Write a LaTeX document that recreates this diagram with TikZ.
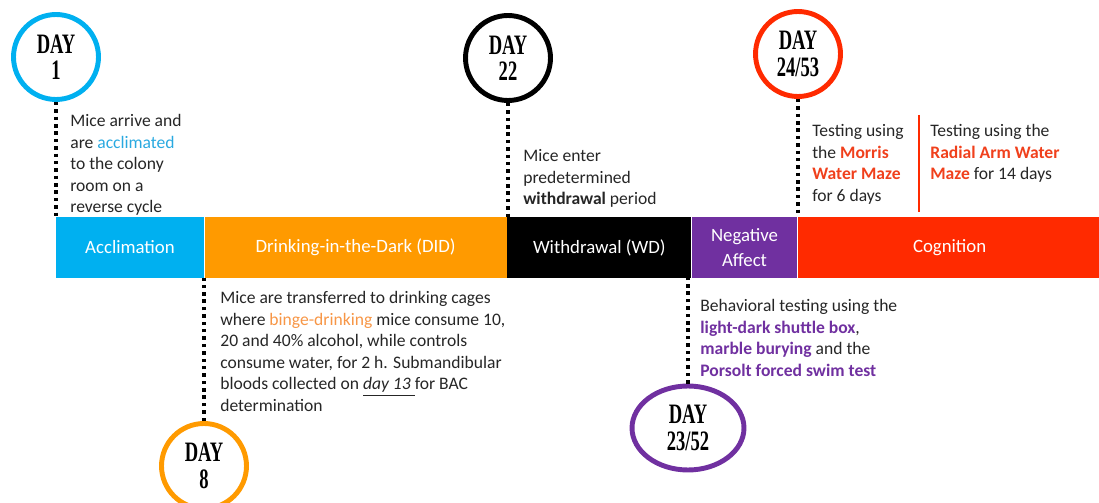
\documentclass[tikz,border=0pt]{standalone}
\usepackage{fontspec}
\setmainfont{Carlito}
\newfontfamily\dayfont[FakeStretch=0.66]{Liberation Serif}
\usetikzlibrary{shapes.geometric, positioning}
\definecolor{accblue}{HTML}{00B0F0}
\definecolor{didorange}{HTML}{FF9A00}
\definecolor{negpurple}{HTML}{7030A0}
\definecolor{cogred}{HTML}{FF2A00}
\definecolor{txtblue}{HTML}{29A9E0}
\definecolor{txtorange}{HTML}{F79646}
\definecolor{txtred}{HTML}{F0401C}
\tikzstyle{seg} = [rectangle, text centered, align=center, minimum height=1.22cm, inner sep=0pt, text=white, font=\fontsize{10.7}{14}\selectfont]
\tikzstyle{day} = [circle, draw, line width=2.8pt, minimum size=1.7cm, inner sep=0pt, align=center, font=\dayfont\bfseries\fontsize{16}{15}\selectfont]
\tikzstyle{note} = [anchor=north west, inner sep=0pt, align=left, text=black!85, font=\fontsize{10}{12.3}\selectfont]
\tikzstyle{dots} = [line width=2.1pt, dash pattern=on 2pt off 2.2pt]
\begin{document}
\begin{tikzpicture}[x=0.02cm, y=-0.02cm]
  \useasboundingbox (0,0) rectangle (1099,503);

  \node (acc) [seg, fill=accblue, minimum width=2.96cm] at (130,247.5) {Acclimation};
  \node (did) [seg, fill=didorange, minimum width=6.04cm, right=0pt of acc] {Drinking-in-the-Dark (DID)};
  \node (wd) [seg, fill=black, minimum width=3.68cm, right=0pt of did] {Withdrawal (WD)};
  \node (neg) [seg, fill=negpurple, minimum width=2.10cm, right=0pt of wd] {Negative\\Affect};
  \node (cog) [seg, fill=cogred, minimum width=6.08cm, right=0pt of neg] {Cognition};

  \node (d1) [day, draw=accblue] at (56,57) {DAY\\1};
  \node (d22) [day] at (508,58) {DAY\\22};
  \node (d24) [day, draw=cogred] at (798,54) {DAY\\24/53};
  \node (d8) [day, draw=didorange] at (204,466) {DAY\\8};
  \node (d23) [day, ellipse, draw=negpurple, minimum width=2.24cm, minimum height=1.68cm] at (688,428) {DAY\\23/52};

  \draw [dots] (d1.south) -- (d1.south |- acc.north);
  \draw [dots] (d22.south) -- (d22.south |- wd.north);
  \draw [dots] (d24.south) -- (d24.south |- cog.north);
  \draw [dots] (d8.north) -- (d8.north |- did.south);
  \draw [dots] (d23.north) -- (d23.north |- neg.south);

  \node (t1) [note] at (70,114) {Mice arrive and\\are \textcolor{txtblue}{acclimated}\\to the colony\\room on a\\reverse cycle};
  \node (t22) [note] at (523,149) {Mice enter\\predetermined\\\textbf{withdrawal} period};
  \node (t24a) [note] at (812,124) {Testing using\\the \textcolor{txtred}{\textbf{Morris}}\\\textcolor{txtred}{\textbf{Water Maze}}\\for 6 days};
  \node (t24b) [note] at (930,124) {Testing using the\\\textcolor{txtred}{\textbf{Radial Arm Water}}\\\textcolor{txtred}{\textbf{Maze}} for 14 days};
  \coordinate (sa) at (919,115);
  \coordinate (sb) at (919,212);
  \draw [cogred, line width=0.6pt] (sa) -- (sb);
  \node (t8) [note] at (220,291) {Mice are transferred to drinking cages\\where \textcolor{txtorange}{binge-drinking} mice consume 10,\\20 and 40\% alcohol, while controls\\consume water, for 2 h. Submandibular\\bloods collected on \underline{\textit{day 13}\ }for BAC\\determination};
  \node (t23) [note] at (700,299) {Behavioral testing using the\\\textcolor{negpurple}{\textbf{light-dark shuttle box}},\\\textcolor{negpurple}{\textbf{marble burying}} and the\\\textcolor{negpurple}{\textbf{Porsolt forced swim test}}};
\end{tikzpicture}
\end{document}
